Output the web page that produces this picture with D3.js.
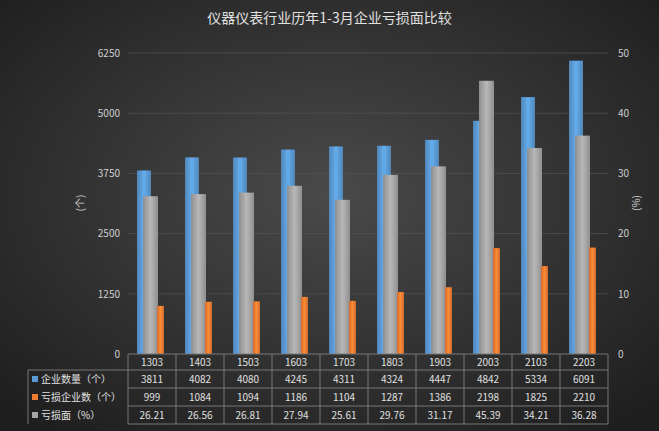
<!DOCTYPE html>
<html><head><meta charset="utf-8">
<script src="https://cdn.jsdelivr.net/npm/d3@7"></script>
<style>body{margin:0;background:#222}text{font-family:"Microsoft YaHei","Noto Sans CJK SC",sans-serif}</style>
</head><body><div id="chart"></div>
<script>
var categories = ["1303","1403","1503","1603","1703","1803","1903","2003","2103","2203"];
var companies = [3811,4082,4080,4245,4311,4324,4447,4842,5334,6091];
var lossCompanies = [999,1084,1094,1186,1104,1287,1386,2198,1825,2210];
var lossRate = [26.21,26.56,26.81,27.94,25.61,29.76,31.17,45.39,34.21,36.28];
var leftTicks = [0,1250,2500,3750,5000,6250];
var rightTicks = [0,10,20,30,40,50];
var seriesNames = ["企业数量（个）","亏损企业数（个）","亏损面（%）"];
var colors = ["#5b9bd5","#ed7d31","#a5a5a5"];

var W = 659, H = 431;
var svg = d3.select("#chart").append("svg").attr("width", W).attr("height", H);
var defs = svg.append("defs");
var bg = defs.append("radialGradient").attr("id","bg").attr("cx","50%").attr("cy","45%").attr("r","70%");
bg.append("stop").attr("offset","0%").attr("stop-color","#4a4a4a");
bg.append("stop").attr("offset","100%").attr("stop-color","#1e1e1e");
svg.append("rect").attr("width",W).attr("height",H).attr("fill","url(#bg)");

colors.forEach(function(c, i) {
  var g = defs.append("linearGradient").attr("id","g"+i).attr("x1",0).attr("x2",1);
  g.append("stop").attr("offset","0%").attr("stop-color", d3.color(c).darker(0.4));
  g.append("stop").attr("offset","50%").attr("stop-color", d3.color(c).brighter(0.3));
  g.append("stop").attr("offset","100%").attr("stop-color", d3.color(c).darker(0.4));
});

svg.append("text").attr("x",W/2).attr("y",23).attr("text-anchor","middle")
  .attr("fill","#e0e0e0").style("font-size","14px").text("仪器仪表行业历年1-3月企业亏损面比较");

var x0 = 128, x1 = 608, yTop = 53, yBot = 354;
var x = d3.scaleBand().domain(categories).range([x0, x1]);
var y = d3.scaleLinear().domain([0,6250]).range([yBot, yTop]);
var y2 = d3.scaleLinear().domain([0,50]).range([yBot, yTop]);

svg.append("g").selectAll("line").data(leftTicks.slice(1)).enter().append("line")
  .attr("x1",x0).attr("x2",x1).attr("y1",function(d){return y(d);}).attr("y2",function(d){return y(d);})
  .attr("stroke","#555").attr("stroke-width",0.7);

svg.append("g").attr("transform","translate("+x0+",0)")
  .call(d3.axisLeft(y).tickValues(leftTicks).tickFormat(d3.format("d")).tickSize(0).tickPadding(8))
  .call(function(g){g.select(".domain").remove();})
  .selectAll("text").attr("fill","#cfcfcf").style("font-size","10px");
svg.append("g").attr("transform","translate("+x1+",0)")
  .call(d3.axisRight(y2).tickValues(rightTicks).tickSize(0).tickPadding(10))
  .call(function(g){g.select(".domain").remove();})
  .selectAll("text").attr("fill","#cfcfcf").style("font-size","10px");

svg.append("text").attr("transform","translate(84,203) rotate(-90)").attr("text-anchor","middle")
  .attr("fill","#cfcfcf").style("font-size","10px").text("(个)");
svg.append("text").attr("transform","translate(640,203) rotate(-90)").attr("text-anchor","middle")
  .attr("fill","#cfcfcf").style("font-size","10px").text("(%)");

function cx(i){ return x(categories[i]) + x.bandwidth()/2; }
var bars = svg.append("g");
bars.selectAll(".b").data(companies).enter().append("rect")
  .attr("x",function(d,i){return cx(i)-15;}).attr("width",14)
  .attr("y",function(d){return y(d);}).attr("height",function(d){return yBot-y(d);})
  .attr("fill","url(#g0)");
bars.selectAll(".g").data(lossRate).enter().append("rect")
  .attr("x",function(d,i){return cx(i)-9;}).attr("width",15)
  .attr("y",function(d){return y2(d);}).attr("height",function(d){return yBot-y2(d);})
  .attr("fill","url(#g2)");
bars.selectAll(".o").data(lossCompanies).enter().append("rect")
  .attr("x",function(d,i){return cx(i)+5;}).attr("width",7)
  .attr("y",function(d){return y(d);}).attr("height",function(d){return yBot-y(d);})
  .attr("fill","url(#g1)");

// data table
var rowH = 18, tl = 28, rows = [companies, lossCompanies, lossRate];
var tg = svg.append("g");
var lc = "#777";
tg.append("line").attr("x1",x0).attr("x2",x1).attr("y1",yBot).attr("y2",yBot).attr("stroke",lc);
for (var r = 1; r <= 4; r++) {
  tg.append("line").attr("x1", r==1?tl:x0).attr("x2",x1).attr("y1",yBot+16+(r-1)*rowH).attr("y2",yBot+16+(r-1)*rowH).attr("stroke",lc);
}
var yEnd = yBot+16+3*rowH;
categories.forEach(function(c,i){
  tg.append("line").attr("x1",x(c)).attr("x2",x(c)).attr("y1",yBot).attr("y2",yEnd).attr("stroke",lc);
});
tg.append("line").attr("x1",x1).attr("x2",x1).attr("y1",yBot).attr("y2",yEnd).attr("stroke",lc);
tg.append("line").attr("x1",tl).attr("x2",tl).attr("y1",yBot+16).attr("y2",yEnd).attr("stroke",lc);
tg.selectAll(".cat").data(categories).enter().append("text")
  .attr("x",function(d,i){return cx(i);}).attr("y",yBot+12).attr("text-anchor","middle")
  .attr("fill","#e0e0e0").style("font-size","10px").text(function(d){return d;});
rows.forEach(function(vals,r){
  var ry = yBot+16+r*rowH;
  tg.append("rect").attr("x",tl+4).attr("y",ry+rowH/2-3).attr("width",6).attr("height",6).attr("fill",colors[r]);
  tg.append("text").attr("x",tl+13).attr("y",ry+13).attr("fill","#e0e0e0").style("font-size","10px").text(seriesNames[r]);
  tg.selectAll(".v"+r).data(vals).enter().append("text")
    .attr("x",function(d,i){return cx(i);}).attr("y",ry+13).attr("text-anchor","middle")
    .attr("fill","#e0e0e0").style("font-size","10px")
    .text(function(d){return r==2 ? d.toFixed(2) : d;});
});
</script></body></html>
